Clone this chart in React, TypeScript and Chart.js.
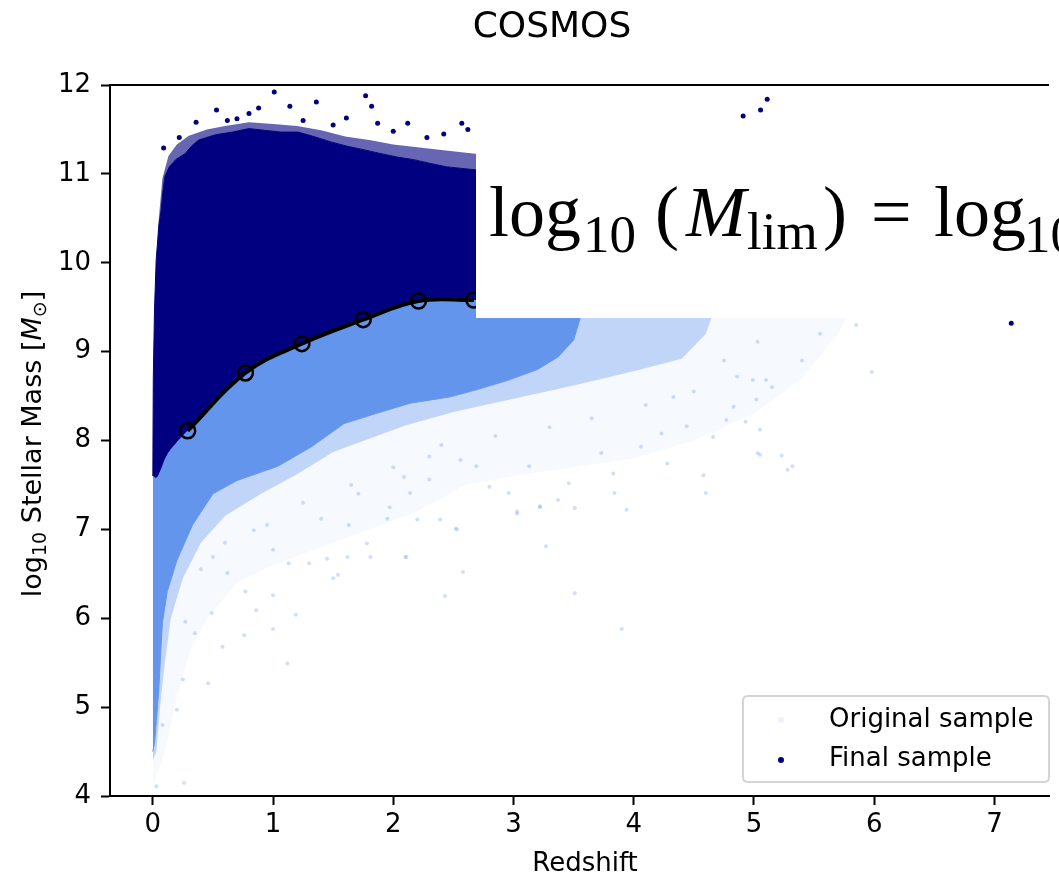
import React, { useEffect, useRef } from "react";
import { Chart, registerables } from "chart.js";

Chart.register(...registerables);

const SANS = "'DejaVu Sans', sans-serif";
const SERIF = "'Liberation Serif', 'DejaVu Serif', serif";

// ---- axis ticks ----
const xTickValues = [0, 1, 2, 3, 4, 5, 6, 7];
const yTickValues = [4, 5, 6, 7, 8, 9, 10, 11, 12];

// ---- mass-completeness limit (black line with open circles) ----
const limitZ = [0.29, 0.77, 1.24, 1.75, 2.21, 2.67];
const limitM = [8.11, 8.76, 9.09, 9.36, 9.57, 9.58];

// ---- lower edge of the final sample (mass limit, extended both ways) ----
const cutZ = [0.0, 0.03, 0.06, 0.12, 0.2, 0.29, 0.77, 1.24, 1.75, 2.21, 2.67, 3.6, 4.7, 6.0];
const cutM = [7.6, 7.58, 7.65, 7.84, 7.98, 8.11, 8.76, 9.09, 9.36, 9.57, 9.58, 9.58, 9.58, 9.58];

// ---- upper edge of the dense final-sample cloud ----
const finalTopZ = [0.0, 0.004, 0.014, 0.028, 0.05, 0.069, 0.082, 0.1, 0.137, 0.19, 0.27, 0.32, 0.38, 0.52, 0.66, 0.8, 0.93, 1.07, 1.21, 1.34, 1.48, 1.62, 1.76, 1.89, 2.03, 2.17, 2.3, 2.44, 2.72];
const finalTopM = [7.6, 8.7, 9.47, 10.03, 10.41, 10.59, 10.78, 10.97, 11.08, 11.16, 11.23, 11.31, 11.38, 11.44, 11.47, 11.51, 11.49, 11.47, 11.47, 11.42, 11.36, 11.31, 11.27, 11.23, 11.19, 11.16, 11.12, 11.08, 11.04];

// ---- sparse fringe above the final-sample cloud ----
const finalFringeZ = [0.04, 0.08, 0.13, 0.2, 0.3, 0.45, 0.6, 0.8, 1.0, 1.2, 1.4, 1.6, 1.8, 2.0, 2.2, 2.4, 2.72];
const finalFringeM = [10.35, 10.95, 11.2, 11.33, 11.43, 11.5, 11.54, 11.58, 11.56, 11.54, 11.49, 11.42, 11.38, 11.33, 11.3, 11.27, 11.22];

// ---- isolated final-sample points ----
const finalOutZ = [1.01, 1.77, 1.36, 0.53, 1.14, 1.82, 0.09, 0.22, 2.12, 2.28, 2.57, 0.88, 1.61, 1.87, 0.8, 0.36, 0.62, 0.7, 1.25, 1.5, 2.0, 2.42, 2.62, 4.91, 5.055, 5.11, 7.14];
const finalOutM = [11.92, 11.88, 11.81, 11.72, 11.76, 11.76, 11.29, 11.41, 11.57, 11.41, 11.57, 11.74, 11.63, 11.57, 11.68, 11.58, 11.6, 11.62, 11.6, 11.55, 11.48, 11.45, 11.5, 11.65, 11.72, 11.84, 9.32];

// ---- original sample: lower edges of dense / medium / sparse regions ----
const origDenseZ = [0.0, 0.015, 0.03, 0.05, 0.065, 0.08, 0.12, 0.2, 0.33, 0.5, 0.7, 1.04, 1.32, 1.59, 1.87, 2.14, 2.47, 2.69, 2.96, 3.2, 3.37, 3.5, 3.6];
const origDenseM = [4.5, 4.6, 4.85, 5.2, 5.6, 5.95, 6.3, 6.65, 7.05, 7.4, 7.55, 7.71, 7.93, 8.19, 8.31, 8.42, 8.49, 8.57, 8.68, 8.8, 8.94, 9.13, 9.58];

const origMediumZ = [0.0, 0.03, 0.06, 0.1, 0.15, 0.25, 0.4, 0.6, 0.9, 1.2, 1.5, 1.8, 2.1, 2.5, 3.0, 3.5, 4.0, 4.4, 4.6, 4.7];
const origMediumM = [4.4, 4.5, 5.0, 5.5, 6.0, 6.45, 6.85, 7.15, 7.4, 7.62, 7.87, 8.02, 8.17, 8.32, 8.47, 8.62, 8.78, 8.92, 9.2, 9.58];

const origSparseZ = [0.0, 0.1, 0.2, 0.3, 0.45, 0.7, 1.0, 1.4, 1.8, 2.2, 2.6, 3.0, 3.5, 4.0, 4.5, 5.0, 5.4, 5.7, 5.85];
const origSparseM = [4.1, 4.5, 5.1, 5.6, 6.0, 6.4, 6.6, 6.8, 7.0, 7.2, 7.5, 7.6, 7.7, 7.8, 8.0, 8.3, 8.7, 9.2, 9.58];

// ---- scattered original-sample points ----
const origDotsZ = [5.03, 4.99, 5.1, 5.02, 5.05, 5.03, 4.93, 4.83, 4.77, 4.86, 4.6, 4.58, 4.28, 4.23, 3.94, 3.84, 3.83, 3.51, 3.46, 3.37, 3.27, 3.22, 3.03, 2.96, 2.8, 2.58, 2.52, 2.39, 2.2, 2.1, 1.81, 1.62, 1.45, 1.3, 1.13, 1.54, 1.78, 1.95, 2.14, 2.3, 2.69, 3.13, 3.73, 4.06, 4.44, 4.66, 4.33, 3.51, 3.9, 5.32, 5.23, 5.05, 5.85, 5.98, 5.55, 5.4, 5.28, 0.26, 0.03, 0.2, 0.08, 0.46, 0.25, 0.58, 1.0, 1.12, 0.35, 0.27, 0.49, 0.76, 0.86, 1.0, 1.19, 1.5, 2.11, 2.43, 2.53, 1.63, 1.0, 0.77, 0.62, 0.5, 0.84, 1.4, 1.71, 2.09, 2.3, 2.56, 3.03, 3.22, 1.97, 0.4, 0.6, 0.95, 1.25, 1.65, 2.0, 2.4, 2.85, 3.3, 3.65, 4.1, 4.5, 4.75, 5.15];
const origDotsM = [9.11, 8.68, 8.68, 8.46, 8.12, 7.86, 8.21, 8.38, 8.23, 8.72, 7.41, 7.61, 7.74, 8.08, 7.22, 7.41, 7.63, 7.24, 7.52, 7.33, 6.81, 7.26, 7.2, 7.41, 7.48, 6.52, 7.01, 7.11, 7.11, 6.69, 6.69, 6.69, 6.67, 6.62, 6.62, 6.49, 6.84, 7.12, 7.41, 7.56, 7.71, 7.71, 7.86, 7.93, 8.16, 8.04, 8.49, 6.28, 5.88, 7.71, 7.83, 7.84, 9.3, 8.77, 9.2, 8.9, 7.67, 4.15, 4.11, 4.97, 4.8, 5.27, 5.31, 5.68, 5.88, 5.49, 5.83, 5.96, 6.06, 5.81, 6.09, 6.26, 6.04, 6.45, 6.69, 6.25, 7.0, 7.05, 6.77, 6.3, 6.51, 6.69, 6.99, 7.12, 7.4, 7.59, 7.82, 7.78, 7.18, 7.25, 7.25, 6.55, 6.85, 7.05, 7.3, 7.5, 7.7, 7.95, 8.05, 8.15, 8.25, 8.4, 8.55, 8.9, 8.6];

const zip = (xs: number[], ys: number[]) => xs.map((x, i) => ({ x, y: ys[i] }));

const NAVY = "#000080";
const CORNFLOWER = "#6495ED";

const overlayPlugin = {
  id: "overlay",
  afterDatasetsDraw(chart: any) {
    const ctx = chart.ctx as CanvasRenderingContext2D;
    ctx.save();
    // pasted equation box
    ctx.fillStyle = "#ffffff";
    ctx.fillRect(476, 122, chart.width - 476, 318 - 122);
    ctx.fillStyle = "#000";
    ctx.textAlign = "left";
    ctx.textBaseline = "alphabetic";
    const pieces = [
      { t: "log", f: `72px ${SERIF}`, x: 489, y: 236 },
      { t: "10", f: `53px ${SERIF}`, x: 583, y: 252 },
      { t: "(", f: `72px ${SERIF}`, x: 655, y: 236 },
      { t: "M", f: `italic 72px ${SERIF}`, x: 686, y: 236 },
      { t: "lim", f: `53px ${SERIF}`, x: 747, y: 249 },
      { t: ")", f: `72px ${SERIF}`, x: 823, y: 236 },
      { t: "=", f: `72px ${SERIF}`, x: 871, y: 236 },
      { t: "log", f: `72px ${SERIF}`, x: 934, y: 236 },
      { t: "10", f: `53px ${SERIF}`, x: 1024, y: 252 },
    ];
    for (const p of pieces) {
      ctx.font = p.f;
      ctx.fillText(p.t, p.x, p.y);
    }
    ctx.restore();
  },
  afterDraw(chart: any) {
    const ctx = chart.ctx as CanvasRenderingContext2D;
    const a = chart.chartArea;
    ctx.save();
    // top spine
    ctx.strokeStyle = "#000";
    ctx.lineWidth = 2;
    ctx.beginPath();
    ctx.moveTo(a.left - 1, a.top);
    ctx.lineTo(a.right, a.top);
    ctx.stroke();

    ctx.fillStyle = "#000";
    // title
    ctx.font = `36px ${SANS}`;
    ctx.textAlign = "center";
    ctx.textBaseline = "alphabetic";
    ctx.fillText("COSMOS", 552, 37);

    // x label
    ctx.font = `26px ${SANS}`;
    ctx.fillText("Redshift", 585, 871);

    // y label (rich text, rotated)
    const parts = [
      { t: "log", f: `27px ${SANS}`, dy: 0 },
      { t: "10", f: `19px ${SANS}`, dy: 5 },
      { t: " Stellar Mass [", f: `27px ${SANS}`, dy: 0 },
      { t: "M", f: `italic 27px ${SANS}`, dy: 0 },
      { t: "\u2299", f: `19px ${SANS}`, dy: 5 },
      { t: "]", f: `27px ${SANS}`, dy: 0 },
    ];
    ctx.textAlign = "left";
    let total = 0;
    const widths = parts.map((p) => {
      ctx.font = p.f;
      const w = ctx.measureText(p.t).width;
      total += w;
      return w;
    });
    ctx.translate(41, 444);
    ctx.rotate(-Math.PI / 2);
    let cx = -total / 2;
    parts.forEach((p, i) => {
      ctx.font = p.f;
      ctx.fillText(p.t, cx, p.dy);
      cx += widths[i];
    });
    ctx.setTransform(1, 0, 0, 1, 0, 0);

    // legend
    const lx = 743, ly = 696, lw = 306, lh = 86, r = 5;
    ctx.beginPath();
    ctx.moveTo(lx + r, ly);
    ctx.lineTo(lx + lw - r, ly);
    ctx.quadraticCurveTo(lx + lw, ly, lx + lw, ly + r);
    ctx.lineTo(lx + lw, ly + lh - r);
    ctx.quadraticCurveTo(lx + lw, ly + lh, lx + lw - r, ly + lh);
    ctx.lineTo(lx + r, ly + lh);
    ctx.quadraticCurveTo(lx, ly + lh, lx, ly + lh - r);
    ctx.lineTo(lx, ly + r);
    ctx.quadraticCurveTo(lx, ly, lx + r, ly);
    ctx.closePath();
    ctx.fillStyle = "rgba(255,255,255,0.8)";
    ctx.fill();
    ctx.strokeStyle = "#d4d4d4";
    ctx.lineWidth = 2;
    ctx.stroke();

    ctx.fillStyle = "rgba(100,149,237,0.12)";
    ctx.beginPath();
    ctx.arc(781, 720, 3, 0, Math.PI * 2);
    ctx.fill();
    ctx.fillStyle = NAVY;
    ctx.beginPath();
    ctx.arc(781, 760, 3, 0, Math.PI * 2);
    ctx.fill();

    ctx.fillStyle = "#000";
    ctx.font = `26px ${SANS}`;
    ctx.textAlign = "left";
    ctx.fillText("Original sample", 829, 727);
    ctx.fillText("Final sample", 829, 766);
    ctx.restore();
  },
};

export default function App() {
  const canvasRef = useRef<HTMLCanvasElement | null>(null);

  useEffect(() => {
    document.body.style.margin = "0";
    const canvas = canvasRef.current;
    if (!canvas) return;

    const line = (data: any[], extra: any) => ({
      data,
      showLine: true,
      pointRadius: 0,
      pointHoverRadius: 0,
      borderWidth: 0,
      borderColor: "rgba(0,0,0,0)",
      ...extra,
    });

    const chart = new Chart(canvas, {
      type: "scatter",
      data: {
        datasets: [
          // 0: mass limit
          {
            label: "Mass limit",
            data: zip(limitZ, limitM),
            showLine: true,
            borderColor: "#000",
            borderWidth: 4,
            tension: 0.4,
            pointRadius: 7.5,
            pointBorderWidth: 2.5,
            pointBorderColor: "#000",
            pointBackgroundColor: "rgba(0,0,0,0)",
            fill: false,
            order: 1,
          } as any,
          // 1: cut line (fill target)
          line(zip(cutZ, cutM), { label: "cut", tension: 0.4, fill: false, order: 100 }),
          // 2: sparse original envelope
          line(zip(origSparseZ, origSparseM), { label: "orig sparse", backgroundColor: "rgba(100,149,237,0.06)", fill: 1, order: 90 }),
          // 3: medium original
          line(zip(origMediumZ, origMediumM), { label: "orig medium", backgroundColor: "rgba(100,149,237,0.36)", fill: 1, order: 80 }),
          // 4: dense original
          line(zip(origDenseZ, origDenseM), { label: "orig dense", backgroundColor: CORNFLOWER, borderColor: CORNFLOWER, borderWidth: 1, fill: 1, order: 70 }),
          // 5: scattered original points
          {
            label: "Original sample",
            data: zip(origDotsZ, origDotsM),
            pointRadius: 2,
            pointBorderWidth: 0,
            pointBackgroundColor: "rgba(100,149,237,0.3)",
            showLine: false,
            order: 60,
          } as any,
          // 6: final sample dense cloud
          line(zip(finalTopZ, finalTopM), { label: "Final sample", backgroundColor: NAVY, borderColor: NAVY, borderWidth: 1, fill: 1, order: 50 }),
          // 7: final sample fringe
          line(zip(finalFringeZ, finalFringeM), { label: "final fringe", backgroundColor: "rgba(0,0,128,0.6)", fill: 6, order: 55 }),
          // 8: isolated final points
          {
            label: "final outliers",
            data: zip(finalOutZ, finalOutM),
            pointRadius: 2.5,
            pointBorderWidth: 0,
            pointBackgroundColor: NAVY,
            showLine: false,
            order: 40,
          } as any,
        ],
      },
      options: {
        responsive: false,
        animation: false,
        devicePixelRatio: 1,
        events: [],
        layout: { padding: { top: 85, left: 0, right: 0, bottom: 0 } },
        plugins: {
          legend: { display: false },
          tooltip: { enabled: false },
          title: { display: false },
        },
        scales: {
          x: {
            type: "linear",
            min: -0.356,
            max: 7.454,
            afterBuildTicks: (s: any) => {
              s.ticks = xTickValues.map((v) => ({ value: v }));
            },
            afterFit: (s: any) => {
              s.height = 81;
              s.paddingLeft = 0;
              s.paddingRight = 0;
            },
            ticks: {
              font: { family: SANS, size: 26 },
              color: "#000",
              padding: 5,
              maxRotation: 0,
              minRotation: 0,
              autoSkip: false,
              callback: (v: any) => String(v),
            },
            grid: {
              display: true,
              drawOnChartArea: false,
              drawTicks: true,
              tickLength: 9,
              tickWidth: 2,
              tickColor: "#000",
            },
            border: { display: true, color: "#000", width: 2 },
          },
          y: {
            type: "linear",
            min: 4,
            max: 12,
            afterBuildTicks: (s: any) => {
              s.ticks = yTickValues.map((v) => ({ value: v }));
            },
            afterFit: (s: any) => {
              s.width = 110;
              s.paddingTop = 0;
              s.paddingBottom = 0;
            },
            ticks: {
              font: { family: SANS, size: 26 },
              color: "#000",
              padding: 10,
              autoSkip: false,
              callback: (v: any) => String(v),
            },
            grid: {
              display: true,
              drawOnChartArea: false,
              drawTicks: true,
              tickLength: 9,
              tickWidth: 2,
              tickColor: "#000",
            },
            border: { display: true, color: "#000", width: 2 },
          },
        },
      } as any,
      plugins: [overlayPlugin],
    });

    return () => chart.destroy();
  }, []);

  return (
    <div style={{ width: 1059, height: 877, position: "relative", background: "#fff" }}>
      <canvas ref={canvasRef} width={1059} height={877} style={{ display: "block", width: 1059, height: 877 }} />
    </div>
  );
}
